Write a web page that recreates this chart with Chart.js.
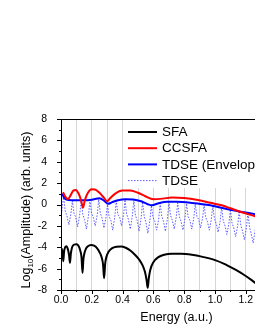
<!DOCTYPE html>
<html lang="en">
<head>
    <meta charset="UTF-8">
    <title>Amplitude vs Energy</title>
    <script src="https://cdn.jsdelivr.net/npm/chart.js"></script>
    <style>
        html, body { margin: 0; padding: 0; background: #fff; overflow: hidden; }
        #chart { display: block; }
    </style>
</head>
<body>
    <canvas id="chart" width="300" height="330"></canvas>
    <script>
        // values (energy in a.u., log10 amplitude)
        const seriesLabels = ['SFA', 'CCSFA', 'TDSE (Envelope)', 'TDSE'];
        const xTickLabels = ['0.0', '0.2', '0.4', '0.6', '0.8', '1.0', '1.2', '1.4'];
        const yTickLabels = ['-8', '-6', '-4', '-2', '0', '2', '4', '6', '8'];

        const sfaE = [0.003, 0.01, 0.015, 0.02, 0.027, 0.035, 0.045, 0.052, 0.058, 0.064, 0.072, 0.085, 0.1, 0.115, 0.125, 0.133, 0.14,
            0.145, 0.15, 0.16, 0.175, 0.195, 0.215, 0.235, 0.255, 0.265, 0.273, 0.28, 0.287, 0.295, 0.31, 0.33, 0.36, 0.39, 0.42, 0.45,
            0.48, 0.51, 0.53, 0.545, 0.555, 0.563, 0.57, 0.58, 0.6, 0.63, 0.67, 0.72, 0.78, 0.85, 0.92, 1.0, 1.06, 1.12, 1.18, 1.24, 1.3, 1.36];
        const sfaV = [-4.1, -4.5, -5.3, -4.4, -4.0, -3.9, -4.2, -4.7, -5.45, -4.6, -4.0, -3.75, -3.72, -3.9, -4.3, -4.9, -6.4,
            -5.2, -4.7, -4.2, -3.9, -3.78, -3.85, -4.1, -4.6, -5.0, -5.6, -6.9, -5.5, -4.9, -4.4, -4.1, -3.95, -3.93, -4.05, -4.3,
            -4.7, -5.2, -5.7, -6.3, -7.0, -7.8, -6.9, -6.1, -5.4, -4.95, -4.7, -4.6, -4.6, -4.7, -4.9, -5.2, -5.55, -6.0, -6.5, -7.1, -7.8, -8.6];

        const ccsfaE = [0.013, 0.025, 0.045, 0.06, 0.08, 0.095, 0.115, 0.13, 0.143, 0.155, 0.175, 0.2, 0.22, 0.25, 0.275, 0.3, 0.32,
            0.35, 0.4, 0.45, 0.5, 0.55, 0.6, 0.66, 0.72, 0.8, 0.88, 0.97, 1.05, 1.1, 1.18, 1.26, 1.35];
        const ccsfaV = [1.15, 0.8, 0.5, 0.8, 1.3, 1.35, 1.0, 0.4, -0.3, 0.4, 1.1, 1.42, 1.4, 1.1, 0.7, 0.3, 0.6,
            1.0, 1.3, 1.3, 1.1, 0.75, 0.5, 0.55, 0.65, 0.6, 0.45, 0.16, -0.1, -0.35, -0.75, -1.1, -1.5];

        const envE = [0.005, 0.012, 0.025, 0.05, 0.1, 0.15, 0.2, 0.25, 0.28, 0.305, 0.33, 0.37, 0.42, 0.47, 0.52, 0.56, 0.59,
            0.63, 0.69, 0.75, 0.85, 0.97, 1.1, 1.2, 1.26, 1.35];
        const envV = [1.0, 0.85, 0.55, 0.42, 0.4, 0.4, 0.45, 0.58, 0.35, 0.06, 0.2, 0.4, 0.5, 0.47, 0.3, 0.05, -0.07,
            0.1, 0.25, 0.25, 0.15, -0.07, -0.5, -0.75, -0.9, -1.1];

        const tdseE = [0.0, 0.008, 0.017, 0.027, 0.039, 0.051, 0.064,
            0.074, 0.084, 0.096, 0.108, 0.121,
            0.131, 0.141, 0.153, 0.165, 0.178,
            0.188, 0.198, 0.21, 0.222, 0.235,
            0.245, 0.255, 0.267, 0.279, 0.292,
            0.302, 0.312, 0.324, 0.336, 0.349,
            0.359, 0.369, 0.381, 0.393, 0.406,
            0.416, 0.426, 0.438, 0.45, 0.463,
            0.473, 0.483, 0.495, 0.507, 0.52,
            0.53, 0.54, 0.552, 0.564, 0.577,
            0.587, 0.597, 0.609, 0.621, 0.634,
            0.644, 0.654, 0.666, 0.678, 0.691,
            0.701, 0.711, 0.723, 0.735, 0.748,
            0.758, 0.768, 0.78, 0.792, 0.805,
            0.815, 0.825, 0.837, 0.849, 0.862,
            0.872, 0.882, 0.894, 0.906, 0.919,
            0.929, 0.939, 0.951, 0.963, 0.976,
            0.986, 0.996, 1.008, 1.02, 1.033,
            1.043, 1.053, 1.065, 1.077, 1.09,
            1.1, 1.11, 1.122, 1.134, 1.147,
            1.157, 1.167, 1.179, 1.191, 1.204,
            1.214, 1.224, 1.236, 1.248, 1.261,
            1.271, 1.281, 1.293, 1.305, 1.318,
            1.328, 1.338, 1.35, 1.362];
        const tdseV = [-1.2, -0.3, 0.8, -0.6, -1.1, -1.9, -0.9,
            0.35, -0.8, -1.2, -2.1, -1.0,
            0.35, -0.9, -1.4, -2.3, -1.1,
            0.4, -0.8, -1.2, -2.0, -1.0,
            0.5, -0.8, -1.3, -2.2, -1.2,
            0.0, -1.1, -1.5, -2.4, -1.2,
            0.35, -0.9, -1.2, -2.0, -1.0,
            0.45, -0.9, -1.4, -2.3, -1.1,
            0.4, -1.0, -1.5, -2.5, -1.3,
            0.25, -1.1, -1.7, -2.7, -1.5,
            -0.1, -1.2, -1.6, -2.4, -1.4,
            0.1, -1.1, -1.6, -2.5, -1.3,
            0.2, -1.0, -1.5, -2.3, -1.2,
            0.15, -1.1, -1.6, -2.4, -1.3,
            0.1, -1.1, -1.5, -2.3, -1.3,
            0.1, -1.1, -1.4, -2.2, -1.3,
            0.0, -1.2, -1.6, -2.4, -1.4,
            -0.1, -1.3, -1.8, -2.6, -1.6,
            -0.25, -1.5, -2.0, -2.8, -1.8,
            -0.45, -1.7, -2.2, -3.0, -2.0,
            -0.6, -1.9, -2.5, -3.3, -2.2,
            -0.75, -2.1, -2.8, -3.6, -2.4,
            -0.9, -2.3, -3.0, -3.8, -2.6,
            -1.1, -2.5, -3.2, -4.0];

        function pts(xs, ys) {
            return xs.map((x, i) => ({ x: x, y: ys[i] }));
        }

        const FONT = '"Liberation Sans", Arial, sans-serif';

        // outward tick marks, frame, legend and axis titles
        const decor = {
            id: 'decor',
            beforeDatasetsDraw(chart) {
                const ctx = chart.ctx;
                const a = chart.chartArea;
                // legend box covers the grid lines
                ctx.save();
                ctx.fillStyle = '#fff';
                ctx.fillRect(125, a.top + 1, a.right - 126, 68);
                ctx.restore();
            },
            afterDraw(chart) {
                const ctx = chart.ctx;
                const a = chart.chartArea;
                const xs = chart.scales.x, ys = chart.scales.y;
                ctx.save();
                ctx.strokeStyle = '#000';
                ctx.lineWidth = 1;
                ctx.strokeRect(a.left + 0.5, a.top + 0.5, a.right - a.left, a.bottom - a.top);
                ctx.beginPath();
                xs.ticks.forEach(t => {
                    const px = Math.round(xs.getPixelForValue(t.value)) + 0.5;
                    const major = Math.round(t.value * 10) % 2 === 0;
                    ctx.moveTo(px, a.bottom);
                    ctx.lineTo(px, a.bottom + (major ? 4 : 2));
                });
                ys.ticks.forEach(t => {
                    const py = Math.round(ys.getPixelForValue(t.value)) + 0.5;
                    const major = Math.round(t.value) % 2 === 0;
                    ctx.moveTo(a.left, py);
                    ctx.lineTo(a.left - (major ? 4 : 2), py);
                });
                ctx.stroke();

                // legend
                const rows = [
                    { color: '#000', width: 2, dash: [] },
                    { color: '#ff0000', width: 2, dash: [] },
                    { color: '#0000ff', width: 2, dash: [] },
                    { color: 'rgba(50,50,255,0.8)', width: 1, dash: [1.5, 1.5] }
                ];
                ctx.font = '13.5px ' + FONT;
                ctx.textBaseline = 'middle';
                ctx.fillStyle = '#000';
                rows.forEach((r, i) => {
                    const y = 132 + i * 16.2;
                    ctx.beginPath();
                    ctx.strokeStyle = r.color;
                    ctx.lineWidth = r.width;
                    ctx.setLineDash(r.dash);
                    ctx.moveTo(128, y);
                    ctx.lineTo(157, y);
                    ctx.stroke();
                    ctx.setLineDash([]);
                    ctx.fillText(chart.data.datasets[i].label, 162, y + 0.5);
                });

                // x title
                ctx.font = '12.5px ' + FONT;
                ctx.textAlign = 'center';
                ctx.fillText('Energy (a.u.)', (a.left + a.right) / 2, 318);

                // y title with subscript
                ctx.translate(27, 210);
                ctx.rotate(-Math.PI / 2);
                const p1 = 'Log', sub = '10', p2 = '(Amplitude) (arb. units)';
                ctx.font = '12.5px ' + FONT;
                const w1 = ctx.measureText(p1).width, w3 = ctx.measureText(p2).width;
                ctx.font = '8px ' + FONT;
                const w2 = ctx.measureText(sub).width;
                let x0 = -(w1 + w2 + w3) / 2;
                ctx.textAlign = 'left';
                ctx.font = '12.5px ' + FONT;
                ctx.fillText(p1, x0, 0);
                ctx.font = '8px ' + FONT;
                ctx.fillText(sub, x0 + w1, 4);
                ctx.font = '12.5px ' + FONT;
                ctx.fillText(p2, x0 + w1 + w2, 0);
                ctx.restore();
            }
        };

        const ctx = document.getElementById('chart').getContext('2d');
        const chart = new Chart(ctx, {
            type: 'line',
            data: {
                datasets: [
                    {
                        label: seriesLabels[0],
                        data: pts(sfaE, sfaV),
                        borderColor: '#000',
                        borderWidth: 2,
                        cubicInterpolationMode: 'monotone'
                    },
                    {
                        label: seriesLabels[1],
                        data: pts(ccsfaE, ccsfaV),
                        borderColor: '#ff0000',
                        borderWidth: 2,
                        cubicInterpolationMode: 'monotone'
                    },
                    {
                        label: seriesLabels[2],
                        data: pts(envE, envV),
                        borderColor: '#0000ff',
                        borderWidth: 2,
                        cubicInterpolationMode: 'monotone'
                    },
                    {
                        label: seriesLabels[3],
                        data: pts(tdseE, tdseV),
                        borderColor: 'rgba(50,50,255,0.8)',
                        borderWidth: 1,
                        borderDash: [1.5, 1.5]
                    }
                ]
            },
            options: {
                responsive: false,
                animation: false,
                devicePixelRatio: 1,
                parsing: true,
                elements: { point: { radius: 0 }, line: { fill: false } },
                layout: { padding: { left: 0, top: 119, right: 8, bottom: 0 } },
                scales: {
                    x: {
                        type: 'linear',
                        min: 0,
                        max: 1.5,
                        afterFit: s => { s.height = 40; },
                        ticks: {
                            stepSize: 0.1,
                            autoSkip: false,
                            maxRotation: 0,
                            padding: 4,
                            color: '#000',
                            font: { family: FONT, size: 10.5 },
                            callback: v => {
                                const k = Math.round(v * 10);
                                return k % 2 === 0 ? xTickLabels[k / 2] : '';
                            }
                        },
                        grid: { color: '#d6d6d6', lineWidth: 1, drawTicks: false },
                        border: { display: false }
                    },
                    y: {
                        type: 'linear',
                        min: -8,
                        max: 8,
                        afterFit: s => { s.width = 61; },
                        ticks: {
                            stepSize: 1,
                            autoSkip: false,
                            padding: 6,
                            color: '#000',
                            font: { family: FONT, size: 10.5 },
                            callback: v => {
                                const k = Math.round(v);
                                return k % 2 === 0 ? yTickLabels[(k + 8) / 2] : '';
                            }
                        },
                        grid: { display: false },
                        border: { display: false }
                    }
                },
                plugins: {
                    legend: { display: false },
                    tooltip: { enabled: false }
                }
            },
            plugins: [decor]
        });
    </script>
</body>
</html>
